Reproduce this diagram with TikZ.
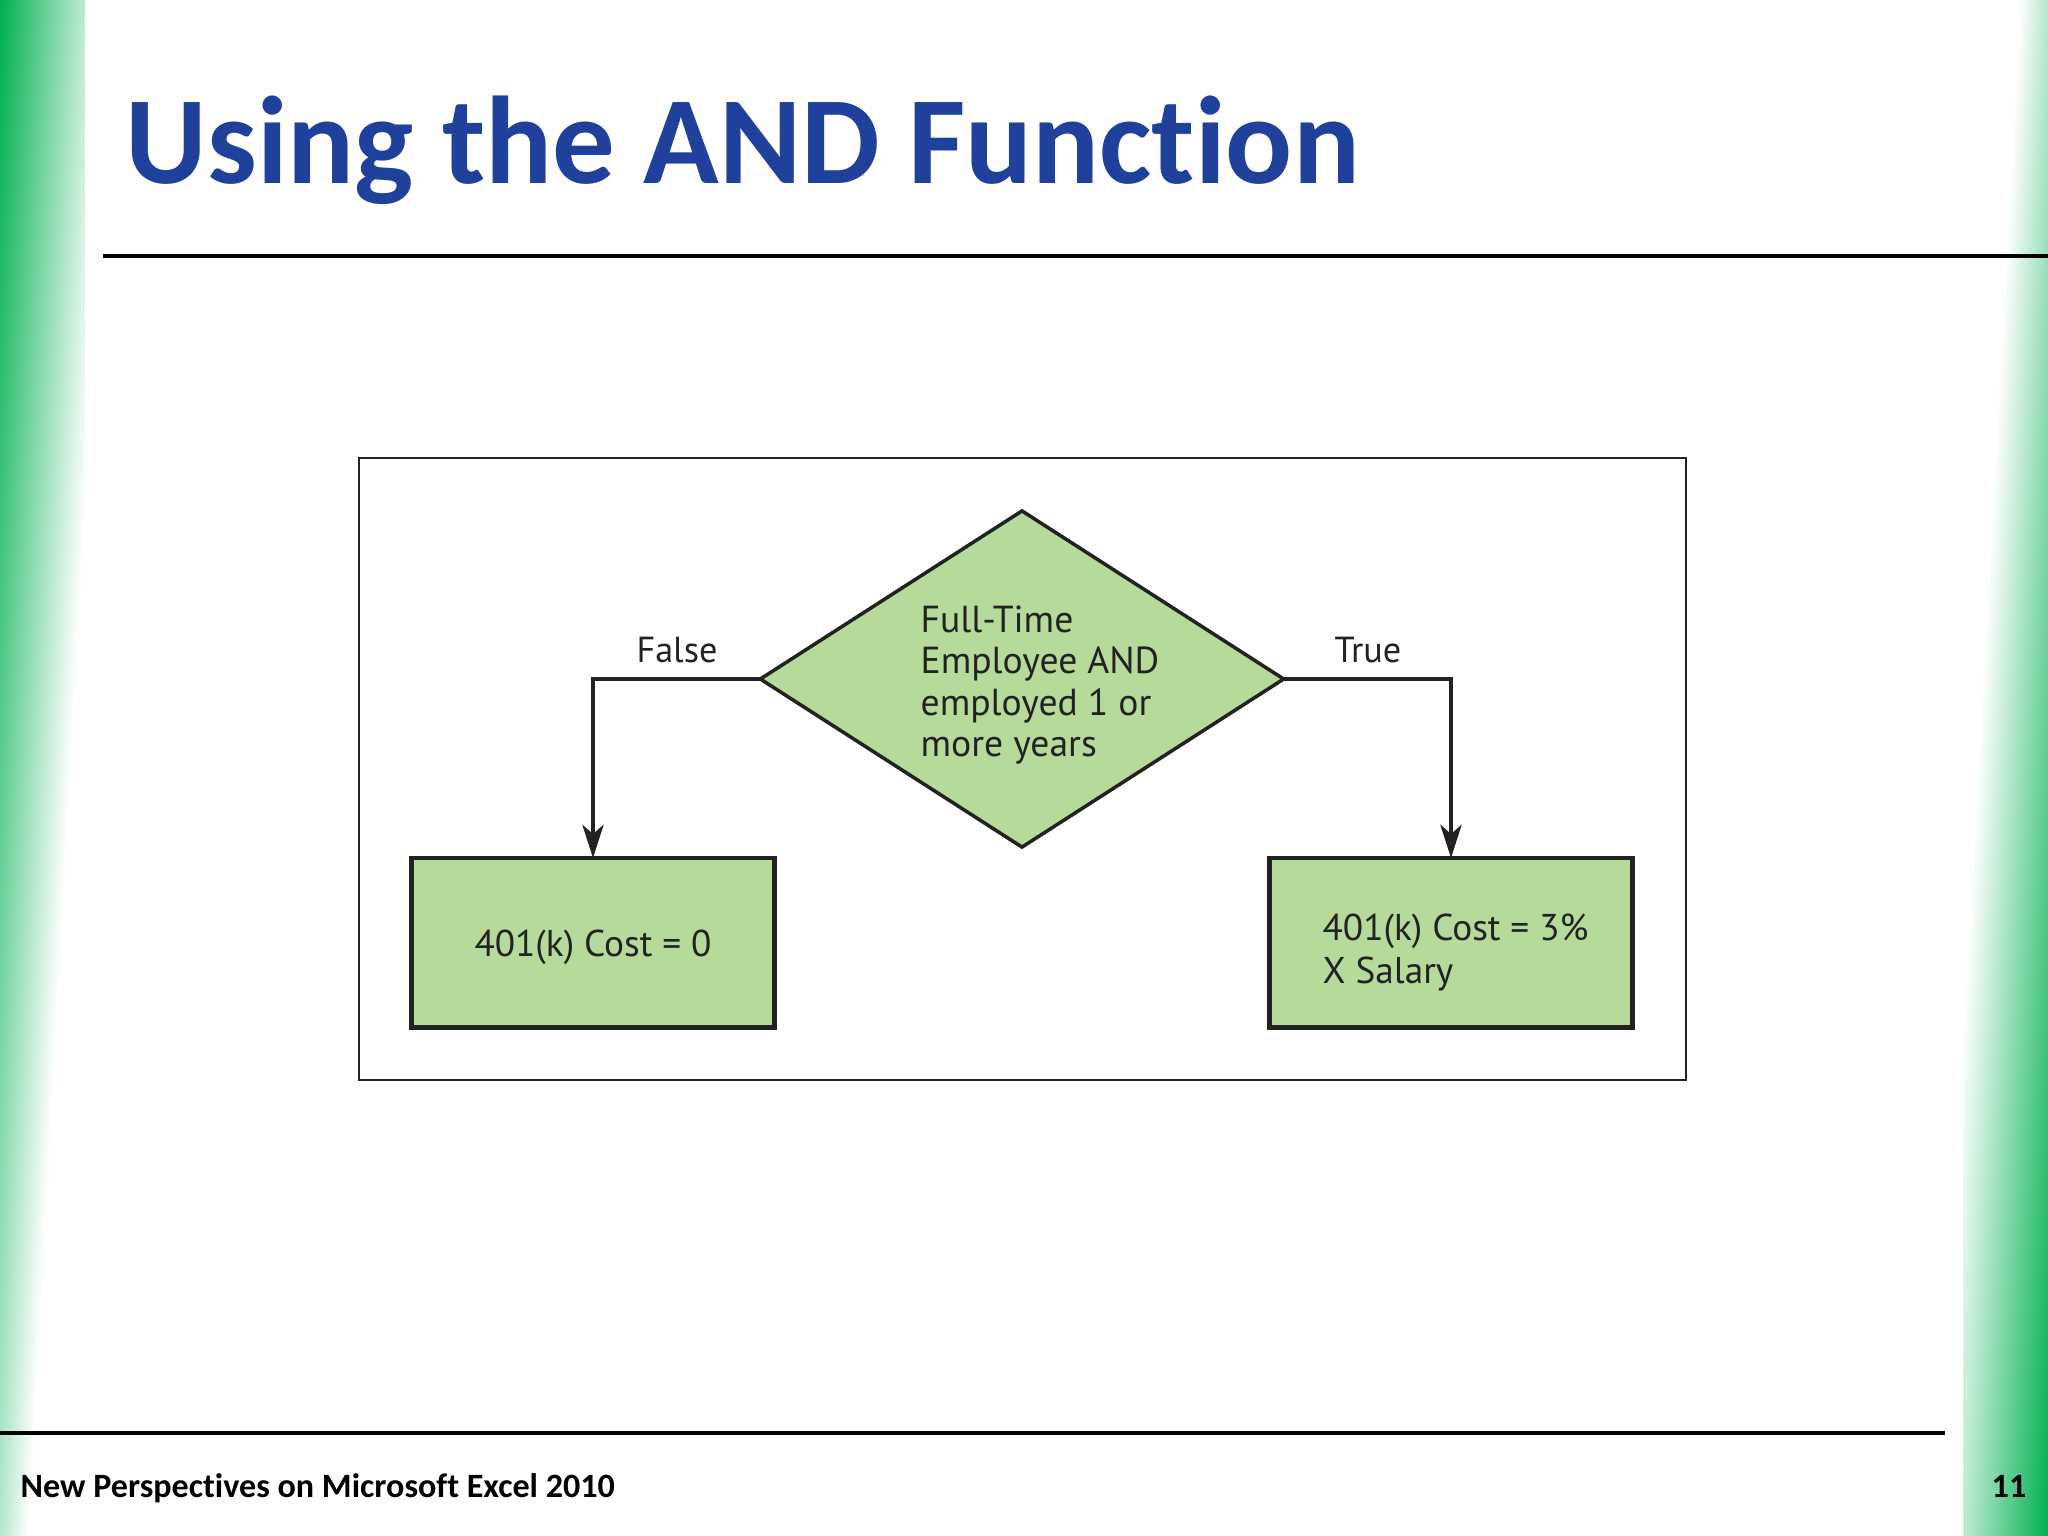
\documentclass[tikz,border=0pt]{standalone}
\usepackage{fontspec}
\setmainfont{Carlito}[Ligatures=NoCommon]
\newfontfamily\boxfont{PT Sans}
\usetikzlibrary{
    shapes.geometric,
    arrows.meta,
    positioning
}
\definecolor{bandgreen}{RGB}{0, 176, 80}
\definecolor{titleblue}{RGB}{31, 65, 155}
\definecolor{boxgreen}{RGB}{181, 218, 154}
\definecolor{inkgray}{RGB}{34, 34, 34}
\tikzset{
    condbox/.style={diamond, draw=inkgray, line width=1pt, fill=boxgreen, aspect=1.56,
        outer sep=0pt, inner sep=-0.5mm, minimum width=5.23cm, minimum height=3.36cm, align=left,
        font=\boxfont\fontsize{10.7}{11.7}\selectfont, text=inkgray},
    costbox/.style={rectangle, draw=inkgray, line width=1.4pt, fill=boxgreen,
        outer sep=0pt, minimum width=3.62cm, minimum height=1.69cm, align=left,
        font=\boxfont\fontsize{10.6}{12.2}\selectfont, text=inkgray},
    flowline/.style={line width=1.35pt, draw=inkgray,
        -{Stealth[length=9.4pt, width=6pt, inset=2.6pt]}},
    branchlabel/.style={anchor=base, inner sep=0pt, text=inkgray,
        font=\boxfont\fontsize{10.3}{11.5}\selectfont},
    ruleline/.style={line width=0.9pt, black}
}
% the two green side bands, cut into thin strips
\newcommand{\greenbands}{
    \foreach \sy in {0,12,...,1524} {
        \pgfmathsetmacro{\bandlen}{113-0.0553*\sy}
        \pgfmathsetmacro{\bandend}{min(\bandlen,85)}
        \pgfmathsetmacro{\bandstart}{100*(1-0.00046*\sy)}
        \pgfmathsetmacro{\bandstop}{\bandstart*(1-\bandend/\bandlen)}
        \shade[left color=bandgreen!\bandstart, right color=bandgreen!\bandstop]
            (0,\sy) rectangle (\bandend,\sy+14);
        \shade[left color=bandgreen!\bandstop, right color=bandgreen!\bandstart]
            (2048-\bandend,1536-\sy) rectangle (2048,1522-\sy);
    }
}
\newcommand{\condtab}{\hspace*{3.6mm}}
\newcommand{\costtab}{\hspace*{0.9mm}}
\begin{document}
\begin{tikzpicture}[x=0.01cm, y=-0.01cm]
        \useasboundingbox (0,0) rectangle (2048,1536);
        \fill[white] (0,0) rectangle (2048,1536);

        % Side bands
        \greenbands

        % Title and rules
        \node[anchor=base west, inner sep=0pt, text=titleblue, font=\fontsize{35.5}{40}\selectfont\bfseries] (title) at (125,183) {Using the AND Function};
        \draw[ruleline] (103,256) -- (2048,256);
        \draw[ruleline] (0,1433) -- (1945,1433);

        % Footer
        \node[anchor=base west, inner sep=0pt, font=\fontsize{9.7}{11}\selectfont\bfseries] (footer) at (20,1497) {New Perspectives on Microsoft Excel 2010};
        \node[anchor=base east, inner sep=0pt, font=\fontsize{9.7}{11}\selectfont\bfseries] (pagenum) at (2027,1497) {11};

        % Figure frame
        \draw[line width=0.7pt, inkgray] (359,458) rectangle (1686,1080);

        % Decision and outcomes
        \node[condbox] (cond) at (1022,679) {\condtab\rule{0pt}{11pt}Full-Time\\\condtab Employee AND\\\condtab employed 1 or\\\condtab more years};
        \node[costbox] (costno) at (593,942.5) {\rule{0pt}{10.5pt}401(k) Cost = 0};
        \node[costbox] (costyes) at (1451,942.5) {\costtab\rule{0pt}{13.5pt}401(k) Cost = 3\%\\\costtab X Salary};

        % Branches
        \draw[flowline] (cond.west) -| (costno.north);
        \draw[flowline] (cond.east) -| (costyes.north);
        \node[branchlabel] (falselabel) at (677,662) {False};
        \node[branchlabel] (truelabel) at (1368,662) {True};
    \end{tikzpicture}
\end{document}
